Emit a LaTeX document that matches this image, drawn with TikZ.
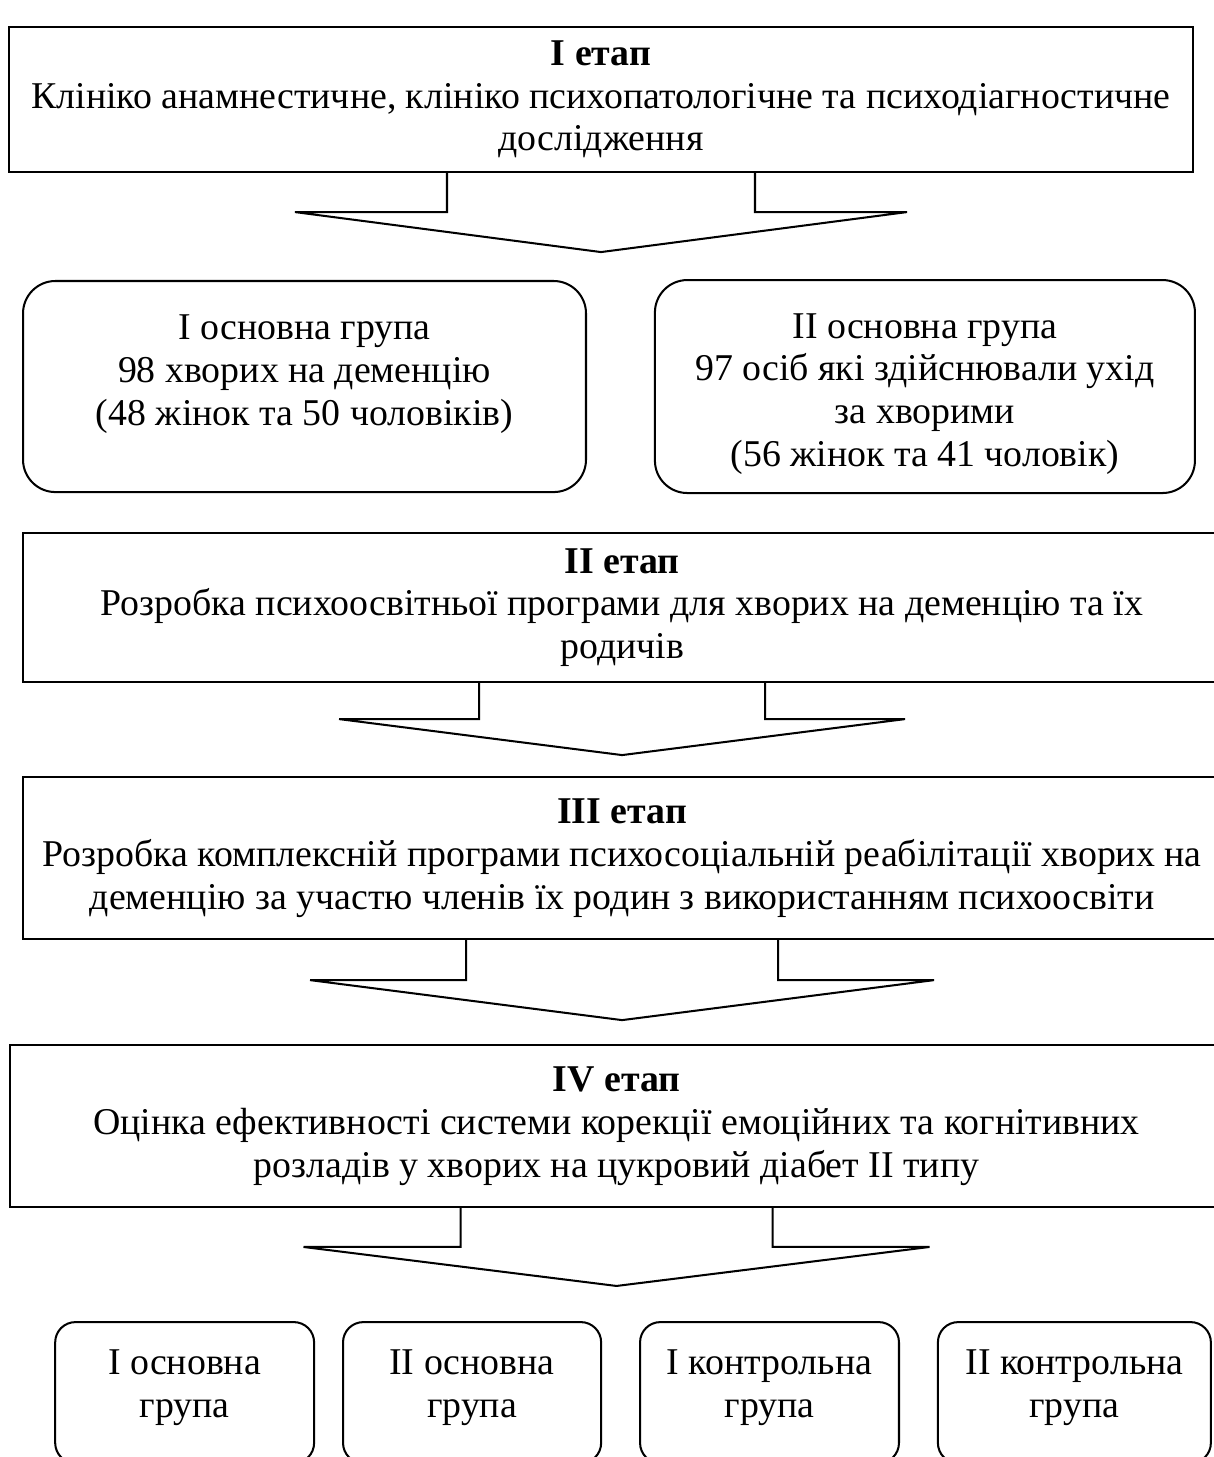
\documentclass[tikz,border=0pt]{standalone}
\usepackage{fontspec}
\setmainfont{Liberation Serif}
\usetikzlibrary{positioning}

\begin{document}
\begin{tikzpicture}[x=0.37pt, y=-0.37pt, auto,
			font=\fontsize{14}{15.8}\selectfont,
			stagebox/.style={
					rectangle,
					draw,
					line width=0.75pt,
					align=center,
					inner sep=0pt,
					outer sep=0pt
				},
			groupbox/.style={
					rectangle,
					draw,
					line width=0.75pt,
					rounded corners=12pt,
					minimum height=78.1pt,
					align=center,
					inner sep=0pt,
					outer sep=0pt
				},
			smallbox/.style={
					rectangle,
					draw,
					line width=0.75pt,
					rounded corners=7.5pt,
					minimum height=52.2pt,
					align=center,
					inner sep=0pt,
					outer sep=0pt
				},
			blockarrow/.style={draw, line width=0.75pt, line join=miter}
		]
		\useasboundingbox (0,0) rectangle (1213,1457);
		% Place nodes
		\node [stagebox, minimum width=438.1pt, minimum height=53.7pt] (stage1) at (601,99.5) {\textbf{I етап}\\Клініко анамнестичне, клініко психопатологічне та психодіагностичне\\дослідження};
		\node [groupbox, minimum width=208.3pt, below right=40.3pt and 5.2pt of stage1.south west] (maingroup1) {I основна група\\98 хворих на деменцію\\(48 жінок та 50 чоловіків)\\[-3.6pt]\mbox{}};
		\node [groupbox, minimum width=199.8pt, minimum height=78.8pt, right=25.5pt of maingroup1] (maingroup2) {II основна група\\97 осіб які здійснювали ухід\\за хворими\\(56 жінок та 41 чоловік)\\[-18.3pt]\mbox{}};
		\node [stagebox, minimum width=443.3pt, minimum height=55.1pt, below right=15.2pt and 0pt of maingroup1.south west] (stage2) {\textbf{II етап}\\Розробка психоосвітньої програми для хворих на деменцію та їх\\родичів};
		\node [stagebox, minimum width=443.3pt, minimum height=59.9pt, below=35.2pt of stage2] (stage3) {\textbf{III етап}\\Розробка комплексній програми психосоціальній реабілітації хворих на\\деменцію за участю членів їх родин з використанням психоосвіти};
		\node [stagebox, minimum width=448.8pt, minimum height=59.9pt, below right=39.2pt and -4.8pt of stage3.south west] (stage4) {\textbf{IV етап}\\Оцінка ефективності системи корекції емоційних та когнітивних\\розладів у хворих на цукровий діабет II типу};
		\node [smallbox, minimum width=95.8pt, below right=42.6pt and 16.7pt of stage4.south west] (finalgroup1) {I основна\\група\\[-9pt]\mbox{}};
		\node [smallbox, minimum width=95.5pt, right=10.7pt of finalgroup1] (finalgroup2) {II основна\\група\\[-9pt]\mbox{}};
		\node [smallbox, minimum width=95.8pt, right=14.4pt of finalgroup2] (finalgroup3) {I контрольна\\група\\[-9pt]\mbox{}};
		\node [smallbox, minimum width=101pt, right=14.4pt of finalgroup3] (finalgroup4) {II контрольна\\група\\[-9pt]\mbox{}};
		% Draw block arrows
		\draw [blockarrow] (stage1.south) ++(-154,0) -- ++(0,40) -- ++(-152,0) -- ++(306,40) -- ++(306,-40) -- ++(-152,0) -- ++(0,-40);
		\draw [blockarrow] (stage2.south) ++(-143,0) -- ++(0,37) -- ++(-140,0) -- ++(283,36) -- ++(283,-36) -- ++(-140,0) -- ++(0,-37);
		\draw [blockarrow] (stage3.south) ++(-156,0) -- ++(0,41) -- ++(-156,0) -- ++(312,40) -- ++(312,-40) -- ++(-156,0) -- ++(0,-41);
		\draw [blockarrow] (stage4.south) ++(-156,0) -- ++(0,40) -- ++(-157,0) -- ++(313,39) -- ++(313,-39) -- ++(-157,0) -- ++(0,-40);
	\end{tikzpicture}
\end{document}
